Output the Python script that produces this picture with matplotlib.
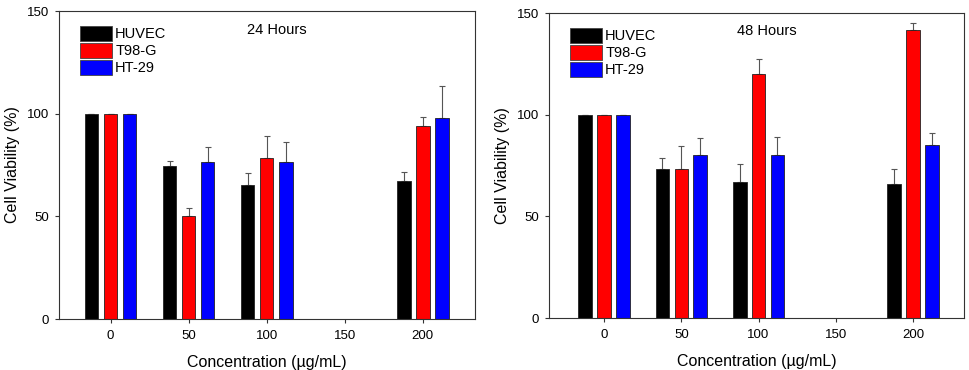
import numpy as np
import matplotlib.pyplot as plt

plt.rcParams['font.family'] = ['Liberation Sans', 'DejaVu Sans']

concentrations = [0, 50, 100, 200]
cell_lines = ["HUVEC", "T98-G", "HT-29"]
bar_colors = ["#000000", "#ff0000", "#0000ff"]

# 24 hours
huvec_24 = [100, 74.3, 65.2, 67.3]
t98g_24 = [100, 50.4, 78.3, 94.1]
ht29_24 = [100, 76.7, 76.4, 97.8]
huvec_24_err = [0, 2.6, 5.8, 4.2]
t98g_24_err = [0, 3.8, 10.6, 4.5]
ht29_24_err = [0, 7.3, 9.7, 15.7]

# 48 hours
huvec_48 = [100, 73.4, 66.7, 65.7]
t98g_48 = [100, 73.4, 120.0, 141.8]
ht29_48 = [100, 80.0, 80.0, 85.2]
huvec_48_err = [0, 5.3, 9.2, 7.7]
t98g_48_err = [0, 11.4, 7.4, 3.4]
ht29_48_err = [0, 8.7, 9.2, 5.9]

x_ticks = [0, 50, 100, 150, 200]
y_ticks = [0, 50, 100, 150]


def draw_panel(ax, values, errors, title, xlim):
    x = np.array(concentrations)
    offsets = [-12.2, 0, 12.2]
    for vals, errs, off, color, name in zip(values, errors, offsets, bar_colors, cell_lines):
        ax.bar(
            x + off,
            vals,
            width = 8.8,
            color = color,
            edgecolor = "#222222",
            linewidth = 0.6,
            label = name,
            zorder = 2
        )
        ax.errorbar(
            x + off,
            vals,
            yerr = [np.zeros(len(errs)), errs],
            fmt = "none",
            ecolor = "#555555",
            elinewidth = 0.8,
            capsize = 2.5,
            capthick = 0.8,
            zorder = 1
        )

    ax.set_xlim(*xlim)
    ax.set_ylim(0, 150)
    ax.set_xticks(x_ticks)
    ax.set_yticks(y_ticks)
    ax.tick_params(direction = "out", length = 3, width = 0.8, labelsize = 9.5,
                   color = "#333333")
    ax.tick_params(axis = "x", pad = 5)
    ax.tick_params(axis = "y", pad = 4)
    for spine in ax.spines.values():
        spine.set_color("#333333")
        spine.set_linewidth(0.8)

    ax.set_xlabel("Concentration (µg/mL)", fontsize = 11.5, labelpad = 9)
    ax.set_ylabel("Cell Viability (%)", fontsize = 11.5, labelpad = 5)
    ax.text(0.524, 0.94, title, transform = ax.transAxes, ha = "center",
            va = "center", fontsize = 10.5)

    legend = ax.legend(
        loc = "upper left",
        bbox_to_anchor = (0.03, 0.98),
        frameon = False,
        fontsize = 10.5,
        handlelength = 2.2,
        handleheight = 1.2,
        handletextpad = 0.2,
        labelspacing = 0.1,
        borderaxespad = 0.2
    )
    for patch in legend.get_patches():
        patch.set_edgecolor("#444444")


fig = plt.figure(figsize = (9.69, 3.70), dpi = 100)

ax1 = fig.add_axes([0.0609, 0.1378, 0.4293, 0.8324])
draw_panel(
    ax1,
    [huvec_24, t98g_24, ht29_24],
    [huvec_24_err, t98g_24_err, ht29_24_err],
    "24 Hours",
    (-33, 233.5)
)

ax2 = fig.add_axes([0.5666, 0.1405, 0.4283, 0.824])
draw_panel(
    ax2,
    [huvec_48, t98g_48, ht29_48],
    [huvec_48_err, t98g_48_err, ht29_48_err],
    "48 Hours",
    (-35.6, 233)
)

fig.savefig("out.png", dpi = 100)
